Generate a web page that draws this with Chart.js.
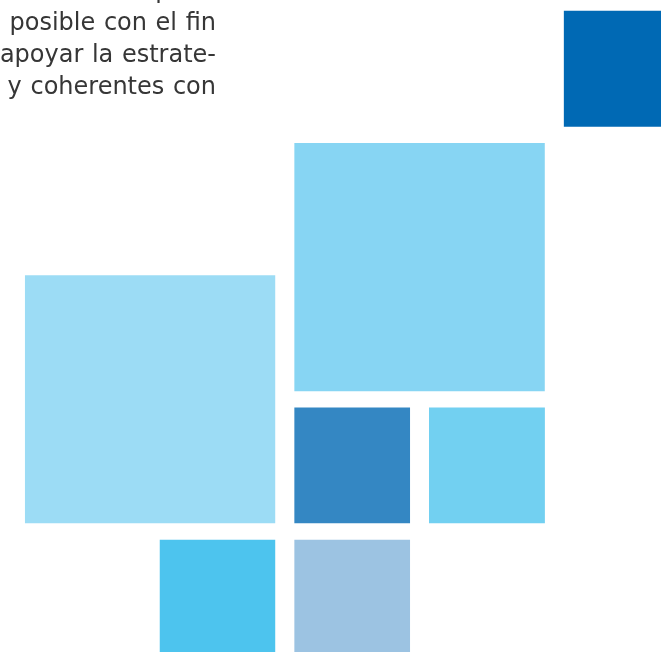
<!DOCTYPE html>
<html>
<head>
<meta charset="utf-8">
<script src="https://cdn.jsdelivr.net/npm/chart.js@4/dist/chart.umd.min.js"></script>
<style>
    html, body { margin: 0; padding: 0; background: #fff; overflow: hidden; }
    #wrap { position: relative; width: 661px; height: 652px; }
    #blocks { position: absolute; left: 0; top: 0; }
    .copy {
        position: absolute; left: -300px; width: 516px; top: -26px;
        font-family: "DejaVu Sans", sans-serif; font-size: 24px; line-height: 32px;
        word-spacing: 1px; color: #363636; text-align: right; white-space: nowrap;
    }
    .copy div { height: 32px; }
    .copy .lead { margin-right: 14px; }
    .copy .tight { margin-right: -2px; }
</style>
</head>
<body>
<div id="wrap">
    <canvas id="blocks" width="661" height="652"></canvas>
    <div class="copy">
        <div>la información lo más completa</div>
        <div><span class="lead">lo más</span>posible con el fin</div>
        <div><span class="lead">de</span>apoyar la estrate-</div>
        <div><span class="tight">definido</span> y coherentes con</div>
    </div>
</div>
<script>
// grid cells: column, row and how many cells each block covers
const blockNames = ['Bloque 1', 'Bloque 2', 'Bloque 3', 'Bloque 4', 'Bloque 5', 'Bloque 6', 'Bloque 7'];
const blockCol = [4, 2, 0, 2, 3, 1, 2];
const blockRow = [0, 1, 2, 3, 3, 4, 4];
const blockSpan = [1, 2, 2, 1, 1, 1, 1];
const blockColors = ['#0069b4', '#87d5f3', '#9cdcf5', '#3487c3', '#72d0f1', '#4dc4ee', '#9cc3e2'];

const GAP_X = 0.139;
const GAP_Y = 0.123;

document.addEventListener('DOMContentLoaded', () => {
    const ctx = document.getElementById('blocks').getContext('2d');

    const datasets = blockNames.map((name, i) => {
        const c = blockCol[i], r = blockRow[i], s = blockSpan[i];
        return {
            label: name,
            data: [{ x: c, y: r }, { x: c + s - GAP_X, y: r }],
            showLine: true,
            borderWidth: 0,
            borderColor: 'rgba(0,0,0,0)',
            pointRadius: 0,
            backgroundColor: blockColors[i],
            fill: { target: { value: r + s - GAP_Y } }
        };
    });

    new Chart(ctx, {
        type: 'scatter',
        data: { datasets: datasets },
        options: {
            responsive: false,
            animation: false,
            layout: { padding: 0 },
            plugins: {
                legend: { display: false },
                tooltip: { enabled: false }
            },
            scales: {
                x: { type: 'linear', display: false, min: -0.184, max: 4.723 },
                y: { type: 'linear', display: false, reverse: true, min: -0.082, max: 4.85 }
            }
        }
    });
});
</script>
</body>
</html>
